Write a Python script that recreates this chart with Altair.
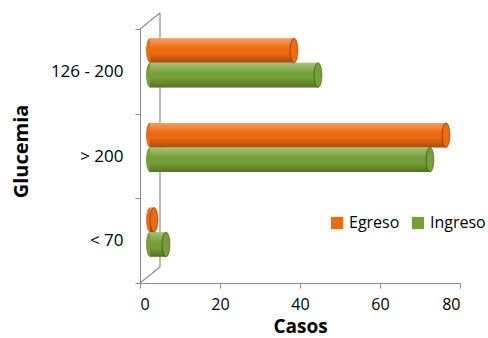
import altair as alt
import pandas as pd

# Cases by glucose range, at admission (Ingreso) and discharge (Egreso)
categorias = ["126 - 200", "> 200", "< 70"]
series = ["Egreso", "Ingreso"]
egreso = [36, 74, 1]
ingreso = [42, 70, 4]
colores = ["#EE6A0E", "#76A036"]
ticks_x = [0, 20, 40, 60, 80]

rows = []
for cat, e, i in zip(categorias, egreso, ingreso):
    rows.append({"Glucemia": cat, "Serie": "Egreso", "Casos": e, "base": 0})
    rows.append({"Glucemia": cat, "Serie": "Ingreso", "Casos": i, "base": 0})
df = pd.DataFrame(rows)

W, H = 320, 254            # plot area
DEPTH_X, DEPTH_Y = 20, 16  # oblique depth of the back wall
BAR_DX = DEPTH_X // 2      # bars sit half-way into the depth
FONT = "Open Sans"
AXIS_GRAY = "#8C8C8C"

# elliptical end of a cylinder, in unit coordinates
ELLIPSE = "M0,-1 A0.32,1 0 1,1 0,1 A0.32,1 0 1,1 0,-1 Z"
CAP_SIZE = 610

y_enc = alt.Y(
    "Glucemia:N",
    sort=categorias,
    scale=alt.Scale(paddingInner=0, paddingOuter=0),
    axis=alt.Axis(
        title="Glucemia",
        tickBand="extent",
        tickSize=5,
        labelPadding=12,
        labelFontSize=17,
        labelFont=FONT,
        labelColor="#000000",
        domainColor=AXIS_GRAY,
        tickColor=AXIS_GRAY,
        titleFont=FONT,
        titleFontSize=20,
        titleFontWeight="bold",
        titleColor="#000000",
        titleAngle=-90,
        titleX=-113,
        titleY=H / 2 - 5,
        titleAlign="center",
        titleBaseline="alphabetic",
    ),
)
yoff_enc = alt.YOffset(
    "Serie:N",
    sort=series,
    scale=alt.Scale(paddingInner=0, paddingOuter=0.72, align=0.26),
)
x_scale = alt.Scale(domain=[0, 80], nice=False, zero=True)
x_axis = alt.Axis(
    title="Casos",
    values=ticks_x,
    grid=False,
    tickSize=5,
    labelPadding=8,
    labelFontSize=16,
    labelFont=FONT,
    labelColor="#000000",
    domainColor=AXIS_GRAY,
    tickColor=AXIS_GRAY,
    titleFont=FONT,
    titleFontSize=19,
    titleFontWeight="bold",
    titleColor="#000000",
    titleY=49,
    titleBaseline="alphabetic",
)
color_scale = alt.Scale(domain=series, range=colores)
legend = alt.Legend(
    title=None,
    orient="none",
    direction="horizontal",
    legendX=189,
    legendY=186,
    symbolType="square",
    symbolSize=150,
    symbolStrokeWidth=0,
    symbolOpacity=1,
    labelFont=FONT,
    labelFontSize=16,
    labelColor="#000000",
    labelOffset=4,
    columnPadding=10,
    padding=0,
)
color_enc = alt.Color("Serie:N", scale=color_scale, sort=series, legend=legend)

base = alt.Chart(df)

# left (hidden) end of each cylinder
left_caps = base.mark_point(
    shape=ELLIPSE, size=CAP_SIZE, filled=True, opacity=1, xOffset=BAR_DX
).encode(
    x=alt.X("base:Q", scale=x_scale, axis=x_axis),
    y=y_enc,
    yOffset=yoff_enc,
    color=color_enc,
)

bars = base.mark_bar(xOffset=BAR_DX, x2Offset=BAR_DX).encode(
    x=alt.X("base:Q", scale=x_scale, axis=x_axis),
    x2=alt.X2("Casos:Q"),
    y=y_enc,
    yOffset=yoff_enc,
    color=color_enc,
)

# cylindrical shading across each bar
shade = alt.Gradient(
    gradient="linear",
    x1=0, y1=0, x2=0, y2=1,
    stops=[
        alt.GradientStop(color="rgba(255,255,255,0.35)", offset=0),
        alt.GradientStop(color="rgba(255,255,255,0.05)", offset=0.35),
        alt.GradientStop(color="rgba(0,0,0,0.0)", offset=0.6),
        alt.GradientStop(color="rgba(0,0,0,0.28)", offset=1),
    ],
)
bar_shade = base.mark_bar(xOffset=BAR_DX, x2Offset=BAR_DX, fill=shade).encode(
    x=alt.X("base:Q", scale=x_scale, axis=x_axis),
    x2=alt.X2("Casos:Q"),
    y=y_enc,
    yOffset=yoff_enc,
)

# visible right end of each cylinder
end_caps = base.mark_point(
    shape=ELLIPSE, size=CAP_SIZE, filled=True, opacity=1, xOffset=BAR_DX,
    stroke="rgba(0,0,0,0.35)", strokeWidth=1,
).encode(
    x=alt.X("Casos:Q", scale=x_scale, axis=x_axis),
    y=y_enc,
    yOffset=yoff_enc,
    color=color_enc,
)

# back wall edges of the 3-D frame
wall = pd.DataFrame({
    "x1": [0, DEPTH_X, 0],
    "y1": [0, -DEPTH_Y, H],
    "x2": [DEPTH_X, DEPTH_X, DEPTH_X],
    "y2": [-DEPTH_Y, H - DEPTH_Y, H - DEPTH_Y],
})
wall_lines = alt.Chart(wall).mark_rule(color=AXIS_GRAY, strokeWidth=1.2).encode(
    x=alt.X("x1:Q", scale=None),
    x2="x2:Q",
    y=alt.Y("y1:Q", scale=None),
    y2="y2:Q",
)

chart = (
    alt.layer(wall_lines, left_caps, bars, bar_shade, end_caps)
    .resolve_scale(x="shared", y="shared")
    .properties(
        width=W,
        height=H,
        padding={"left": 140, "top": 29, "right": 28, "bottom": 55},
        autosize=alt.AutoSizeParams(type="none"),
        background="white",
    )
    .configure_view(stroke=None)
)

chart.save("out.html", embed_options={"renderer": "svg", "actions": False})
